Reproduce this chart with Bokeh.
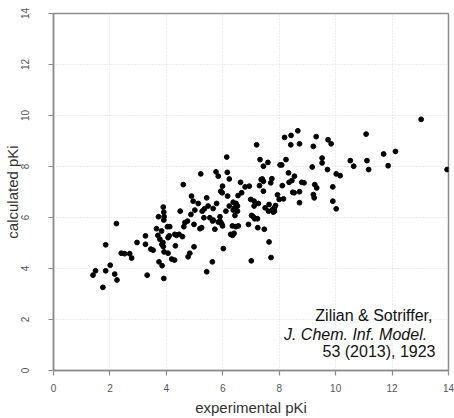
from bokeh.plotting import figure
from bokeh.models import Range1d, FixedTicker, Label
from bokeh.embed import file_html
from bokeh.resources import INLINE

# experimental vs calculated pKi
exp_pki = [
    8.19, 8.42, 8.66, 9.31, 9.73, 11.08, 13.03, 1.40, 1.49, 1.85,
    1.75, 2.17, 2.25, 3.32, 3.91, 5.43, 1.85, 2.23, 2.01, 2.40,
    2.52, 2.70, 2.77, 2.96, 3.26, 3.26, 3.45, 3.53, 3.65, 3.70,
    3.72, 3.74, 3.85, 3.89, 3.91, 3.92, 3.91, 3.84, 3.89, 3.92,
    4.06, 4.10, 4.12, 4.19, 4.29, 4.32, 4.36, 4.45, 4.57, 4.49,
    4.62, 4.60, 4.66, 4.75, 4.77, 4.83, 4.89, 4.95, 4.98, 5.01,
    5.13, 5.19, 5.25, 5.22, 5.27, 5.33, 5.35, 5.43, 5.48, 5.54,
    5.63, 5.66, 5.72, 5.76, 5.84, 5.78, 5.84, 5.90, 5.90, 5.93,
    5.98, 5.99, 5.96, 5.99, 6.02, 6.11, 6.14, 6.16, 6.17, 6.23,
    6.23, 6.28, 6.35, 6.40, 6.34, 6.37, 6.42, 6.37, 6.47, 6.52,
    6.43, 6.46, 6.52, 6.54, 6.55, 6.63, 6.67, 6.79, 7.01, 6.91,
    6.94, 6.99, 7.02, 7.08, 7.13, 7.11, 7.20, 7.23, 7.26, 7.30,
    7.32, 7.36, 7.40, 7.44, 7.44, 7.47, 7.50, 7.60, 7.64, 7.64,
    7.70, 7.71, 7.77, 7.79, 7.87, 7.94, 8.00, 8.03, 8.09, 8.15,
    8.24, 8.33, 8.35, 8.45, 8.41, 8.48, 8.53, 8.54, 8.72, 8.72,
    8.80, 8.88, 9.17, 9.21, 9.21, 9.24, 9.26, 9.33, 9.52, 9.52,
    9.71, 9.84, 9.90, 9.90, 10.02, 10.02, 10.16, 10.52, 10.64, 11.11,
    11.17, 11.70, 11.86, 12.12, 13.95, 3.83, 3.77, 4.04, 4.06, 3.88,
    4.30, 7.44, 7.74, 8.11, 8.72, 7.83, 7.83, 7.62, 7.24, 5.66,
    4.87, 4.98, 5.64, 7.11,
]
calc_pki = [
    9.14, 9.22, 9.40, 9.17, 9.05, 9.27, 9.85, 3.74, 3.91, 3.91,
    3.26, 3.78, 3.55, 3.74, 3.61, 3.87, 4.93, 5.76, 4.13, 4.60,
    4.58, 4.58, 4.41, 5.02, 5.28, 4.95, 4.76, 4.72, 5.56, 5.30,
    6.03, 4.26, 4.11, 6.41, 6.21, 6.03, 5.90, 4.95, 4.86, 4.65,
    4.60, 5.28, 5.64, 4.37, 4.33, 4.89, 5.30, 5.34, 5.25, 6.25,
    5.64, 7.29, 5.80, 5.86, 4.46, 4.60, 6.84, 6.64, 4.85, 6.29,
    6.55, 5.56, 5.60, 7.71, 6.25, 5.99, 6.34, 6.77, 6.45, 5.99,
    4.26, 5.90, 5.54, 7.79, 7.62, 6.55, 5.82, 5.86, 6.03, 7.03,
    6.97, 7.23, 5.76, 5.67, 4.78, 6.25, 8.37, 7.77, 6.84, 7.51,
    6.45, 5.34, 5.30, 5.38, 5.67, 6.60, 6.38, 6.29, 6.55, 6.45,
    6.08, 5.64, 6.25, 6.86, 5.67, 7.38, 6.97, 7.20, 4.30, 5.73,
    7.23, 6.71, 6.08, 6.03, 5.95, 6.45, 8.85, 5.95, 6.55, 7.25,
    8.27, 7.49, 7.51, 7.42, 7.03, 5.54, 6.38, 8.16, 5.04, 6.51,
    7.36, 4.43, 6.32, 6.21, 6.47, 6.89, 6.71, 8.06, 8.06, 6.73,
    8.27, 7.75, 7.38, 7.45, 8.85, 6.99, 6.97, 7.62, 8.89, 7.01,
    7.38, 7.36, 7.98, 8.79, 6.90, 6.77, 7.29, 7.16, 8.33, 8.14,
    7.88, 8.89, 7.20, 6.64, 6.34, 7.71, 7.64, 8.23, 8.01, 8.23,
    7.88, 8.49, 8.03, 8.59, 7.88, 5.47, 5.15, 5.64, 5.21, 5.02,
    5.34, 8.01, 7.52, 7.25, 6.58, 6.38, 6.25, 6.25, 5.60, 6.35,
    6.12, 5.73, 5.86, 6.64,
]
tick_values = [0, 2, 4, 6, 8, 10, 12, 14]
citation_lines = ["Zilian & Sotriffer,", "J. Chem. Inf. Model. ", "53 (2013), 1923"]

FONT = "Liberation Sans"
AX = "#8c8c8c"

p = figure(width=454, height=418, output_backend="svg", toolbar_location=None,
           x_range=Range1d(0, 14), y_range=Range1d(0, 14),
           min_border_left=0, min_border_right=6, min_border_top=13, min_border_bottom=46,
           x_axis_label="experimental pKi", y_axis_label="calculated pKi")
p.background_fill_color = "white"
p.border_fill_color = "white"
p.outline_line_color = AX
p.outline_line_width = 1.5

for ax in (p.xaxis[0], p.yaxis[0]):
    ax.ticker = FixedTicker(ticks=tick_values)
    ax.axis_line_color = AX
    ax.axis_line_width = 1.5
    ax.major_tick_line_color = AX
    ax.major_tick_line_width = 1.2
    ax.major_tick_out = 5
    ax.major_tick_in = 0
    ax.minor_tick_out = 0
    ax.minor_tick_in = 0
    ax.major_label_text_font = FONT
    ax.major_label_text_font_size = "10px"
    ax.major_label_text_color = "#555555"
    ax.axis_label_text_font = FONT
    ax.axis_label_text_font_size = "15px"
    ax.axis_label_text_font_style = "normal"
    ax.axis_label_text_color = "#333333"
p.xaxis[0].major_label_standoff = 8
p.xaxis[0].axis_label_standoff = 4
p.yaxis[0].major_label_standoff = 20
p.yaxis[0].axis_label_standoff = -3
p.yaxis[0].major_label_orientation = "vertical"

for g in (p.xgrid[0], p.ygrid[0]):
    g.grid_line_color = "#dcdcdc"
    g.grid_line_dash = "1 2"
    g.grid_line_width = 1

p.scatter(exp_pki, calc_pki, size=4.8, color="black")

styles = ["normal", "italic", "normal"]
xs = [13.43, 13.40, 13.54]
ys = [2.16, 1.42, 0.74]
for txt, st, xx, yy in zip(citation_lines, styles, xs, ys):
    p.add_layout(Label(x=xx, y=yy, text=txt, text_align="right", text_baseline="middle",
                       text_font=FONT, text_font_size="16px", text_font_style=st,
                       text_color="#111111"))

open("out.html", "w").write(file_html(p, INLINE))
